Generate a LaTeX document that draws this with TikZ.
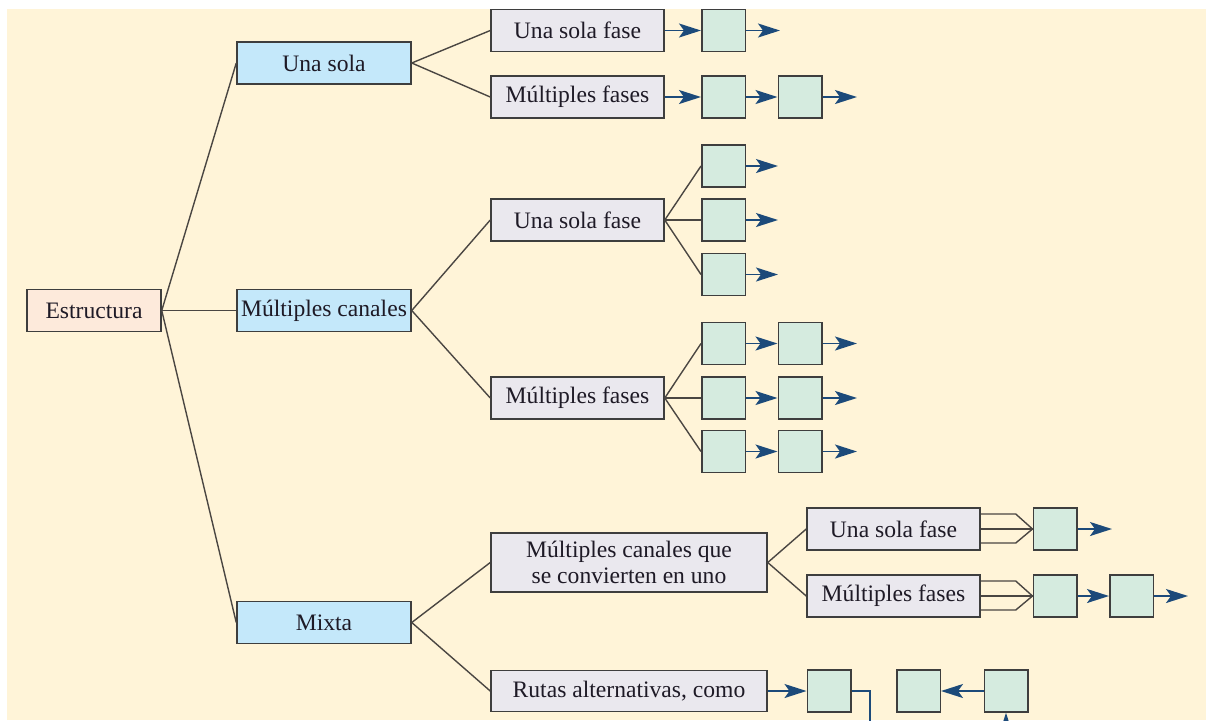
\documentclass[tikz,border=0pt]{standalone}
\usepackage{fontspec}
\setmainfont{Liberation Serif}
\usetikzlibrary{arrows.meta,calc}
\definecolor{bg}{HTML}{FFF4D8}
\definecolor{peach}{HTML}{FDEADB}
\definecolor{lblue}{HTML}{C4E8FA}
\definecolor{lgray}{HTML}{EAE8EE}
\definecolor{lgreen}{HTML}{D5EBDF}
\definecolor{bordc}{HTML}{3E3E3E}
\definecolor{linec}{HTML}{4A4642}
\definecolor{arrc}{HTML}{1C4A7A}
\definecolor{txt}{HTML}{1E1A26}
\newcommand{\fs}{\fontsize{11.8}{13}\selectfont}
\tikzset{
  box/.style={draw=bordc, line width=0.75pt, inner sep=0pt, text=txt, font=\fs, align=center},
  root/.style={box, fill=peach, minimum width=67pt, minimum height=21pt},
  lone/.style={box, fill=lblue, minimum width=87pt, minimum height=21pt},
  ltwo/.style={box, fill=lgray, minimum width=86.5pt, minimum height=21pt},
  wide/.style={box, fill=lgray, minimum width=138pt, minimum height=20.5pt},
  sq/.style={draw=bordc, line width=0.75pt, fill=lgreen, minimum width=21.75pt, minimum height=21pt, inner sep=0pt},
  link/.style={draw=linec, line width=0.7pt},
  flowline/.style={draw=arrc, line width=0.9pt},
  flow/.style={flowline, -{Stealth[length=11pt,width=7pt,inset=2.5pt]}},
}
\begin{document}
\begin{tikzpicture}[x=0.5pt,y=-0.5pt]
\useasboundingbox (0,0) rectangle (1206,720);
\fill[white] (0,0) rectangle (1206,720);
\clip (0,0) rectangle (1206,720);
\fill[bg] (7,9) rectangle (1206,720);

% root and level 1
\node[root] (est) at (94,310.5) {Estructura};
\node[lone] (una) at (324,63) {Una sola};
\node[lone] (mul) at (324,310.5) {Múltiples canales};
\node[lone] (mix) at (324,622.5) {Mixta};

% level 2
\node[ltwo] (a1) at (577.5,30.5) {Una sola fase};
\node[ltwo] (a2) at (577.5,97) {Múltiples fases};
\node[ltwo] (b1) at (577.5,220) {Una sola fase};
\node[ltwo] (b2) at (577.5,398) {Múltiples fases};
\node[wide, minimum height=29.5pt] (c1) at (629,562.5) {Múltiples canales que\\se convierten en uno};
\node[wide] (c2) at (629,691) {Rutas alternativas, como};

% level 3
\node[ltwo] (d1) at (893.5,529) {Una sola fase};
\node[ltwo] (d2) at (893.5,596) {Múltiples fases};

% green squares
\node[sq] (ga1) at (723.5,30.5) {};
\node[sq] (ga2) at (723.5,97) {};
\node[sq] (ga2b) at (800,97) {};
\node[sq] (gb1) at (723.5,166) {};
\node[sq] (gb2) at (723.5,220) {};
\node[sq] (gb3) at (723.5,274.5) {};
\node[sq] (gc1) at (723.5,343.5) {};
\node[sq] (gc1b) at (800,343.5) {};
\node[sq] (gc2) at (723.5,398) {};
\node[sq] (gc2b) at (800,398) {};
\node[sq] (gc3) at (723.5,451.5) {};
\node[sq] (gc3b) at (800,451.5) {};
\node[sq] (gd1) at (1055,529) {};
\node[sq] (gd2) at (1055,596) {};
\node[sq] (gd2b) at (1131.5,596) {};
\node[sq] (gm1) at (829,691) {};
\node[sq] (gm2) at (918.5,691) {};
\node[sq] (gm3) at (1006,691) {};

% tree links
\draw[link] (est.east) -- (una.west);
\draw[link] (est.east) -- (mul.west);
\draw[link] (est.east) -- (mix.west);
\draw[link] (una.east) -- (a1.west);
\draw[link] (una.east) -- (a2.west);
\draw[link] (mul.east) -- (b1.west);
\draw[link] (mul.east) -- (b2.west);
\draw[link] (mix.east) -- (c1.west);
\draw[link] (mix.east) -- (c2.west);
\draw[link] (c1.east) -- (d1.west);
\draw[link] (c1.east) -- (d2.west);
\draw[link] (b1.east) -- (gb1.west);
\draw[link] (b1.east) -- (gb2.west);
\draw[link] (b1.east) -- (gb3.west);
\draw[link] (b2.east) -- (gc1.west);
\draw[link] (b2.east) -- (gc2.west);
\draw[link] (b2.east) -- (gc3.west);

% converging lines
\draw[link] ($(d1.east)+(0,-15)$) -- ++(35,0) -- (gd1.west);
\draw[link] (d1.east) -- (gd1.west);
\draw[link] ($(d1.east)+(0,14)$) -- ++(35,0) -- (gd1.west);
\draw[link] ($(d2.east)+(0,-15)$) -- ++(35,0) -- (gd2.west);
\draw[link] (d2.east) -- (gd2.west);
\draw[link] ($(d2.east)+(0,14)$) -- ++(35,0) -- (gd2.west);

% free ends
\coordinate (oa1) at (780,30.5);
\coordinate (oa2) at (857,97);
\coordinate (ob1) at (778,166);
\coordinate (ob2) at (778,220);
\coordinate (ob3) at (778,274.5);
\coordinate (oc1) at (857,343.5);
\coordinate (oc2) at (857,398);
\coordinate (oc3) at (857,451.5);
\coordinate (od1) at (1112,529);
\coordinate (od2) at (1188,596);
\coordinate (down) at (870,740);
\coordinate (up) at (1006,770);

% flow arrows
\draw[flow] (a1.east) -- (ga1.west);
\draw[flow] (ga1.east) -- (oa1);
\draw[flow] (a2.east) -- (ga2.west);
\draw[flow] (ga2.east) -- (ga2b.west);
\draw[flow] (ga2b.east) -- (oa2);
\draw[flow] (gb1.east) -- (ob1);
\draw[flow] (gb2.east) -- (ob2);
\draw[flow] (gb3.east) -- (ob3);
\draw[flow] (gc1.east) -- (gc1b.west);
\draw[flow] (gc1b.east) -- (oc1);
\draw[flow] (gc2.east) -- (gc2b.west);
\draw[flow] (gc2b.east) -- (oc2);
\draw[flow] (gc3.east) -- (gc3b.west);
\draw[flow] (gc3b.east) -- (oc3);
\draw[flow] (gd1.east) -- (od1);
\draw[flow] (gd2.east) -- (gd2b.west);
\draw[flow] (gd2b.east) -- (od2);
\draw[flow] (c2.east) -- (gm1.west);
\draw[flowline] (gm1.east) -| (down);
\draw[flow] (gm3.west) -- (gm2.east);
\draw[flow] (up) -- (gm3.south);
\end{tikzpicture}
\end{document}
